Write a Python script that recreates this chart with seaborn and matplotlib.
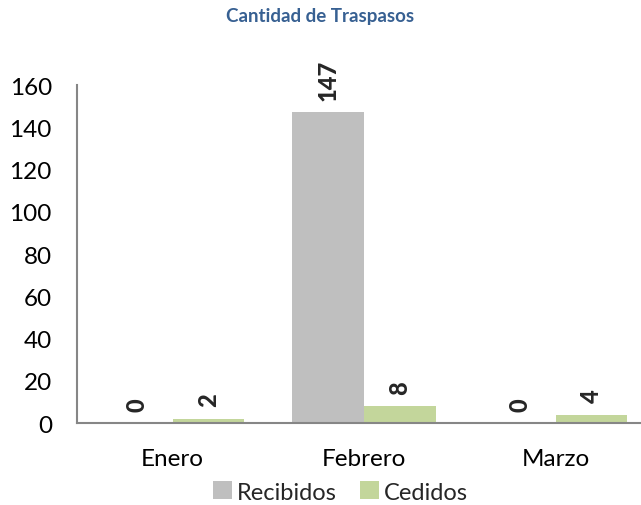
import pandas as pd
import seaborn as sns
import matplotlib.pyplot as plt

meses = ['Enero', 'Febrero', 'Marzo']
recibidos = [0, 147, 0]
cedidos = [2, 8, 4]
series = ['Recibidos', 'Cedidos']
colores = ['#bfbfbf', '#c3d69b']

df = pd.DataFrame({'mes': meses * 2,
                   'valor': recibidos + cedidos,
                   'tipo': ['Recibidos'] * 3 + ['Cedidos'] * 3})

sns.set_style('white')
plt.rcParams['font.family'] = ['Lato', 'DejaVu Sans']

fig = plt.figure(figsize=(6.41, 5.06), dpi=100)
ax = fig.add_axes([0.12, 0.162, 0.896, 0.668])
sns.barplot(data=df, x='mes', y='valor', hue='tipo', hue_order=series,
            palette=colores, width=0.75, saturation=1, linewidth=0, ax=ax)

for cont in ax.containers:
    ax.bar_label(cont, labels=[str(int(v)) for v in cont.datavalues],
                 rotation=90, fontsize=17, fontweight='black', padding=9)

ax.set_ylim(0, 160)
ax.set_yticks(range(0, 161, 20))
ax.tick_params(axis='both', length=0, labelsize=17.5, colors='black')
ax.tick_params(axis='x', pad=18)
ax.tick_params(axis='y', pad=18)
ax.set_xlabel('')
ax.set_ylabel('')
for s in ['top', 'right']:
    ax.spines[s].set_visible(False)
for s in ['left', 'bottom']:
    ax.spines[s].set_color('#868686')
    ax.spines[s].set_linewidth(1.5)

fig.suptitle('Cantidad de Traspasos', x=0.5, y=0.985, fontsize=13.5,
             fontweight='bold', color='#376092')

ax.legend(loc='center', bbox_to_anchor=(0.459, -0.204), ncol=2, frameon=False,
          fontsize=17, handlelength=0.8, handleheight=0.8, handletextpad=0.2,
          columnspacing=1.0, borderpad=0)

fig.savefig('out.png', dpi=100)
